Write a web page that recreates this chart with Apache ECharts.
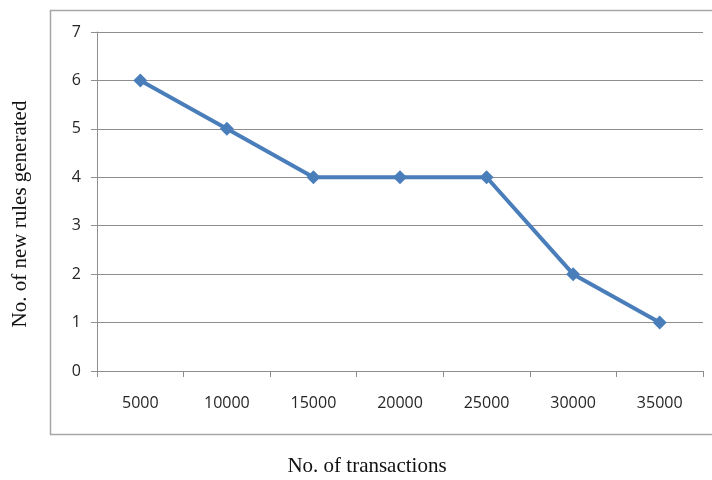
<!DOCTYPE html>
<html>
<head>
<meta charset="utf-8">
<script src="https://cdn.jsdelivr.net/npm/echarts@6/dist/echarts.min.js"></script>
<style>
  html, body { margin: 0; padding: 0; background: #fff; }
  #chart { width: 712px; height: 480px; }
</style>
</head>
<body>
<div id="chart"></div>
<script>
// Transactions processed vs. new rules generated
const transactions = ['5000', '10000', '15000', '20000', '25000', '30000', '35000'];
const newRules = [6, 5, 4, 4, 4, 2, 1];
const yTicks = { min: 0, max: 7, interval: 1 };
const xTitle = 'No. of transactions';
const yTitle = 'No. of new rules generated';

const gridColor = '#8e8e8e';
const lineColor = '#4a7ebb';
const tickFont = { fontFamily: 'Open Sans', fontSize: 16, color: '#262626' };

const chart = echarts.init(document.getElementById('chart'), null, { renderer: 'canvas' });
chart.setOption({
  backgroundColor: '#ffffff',
  animation: false,
  grid: { left: 97, right: 9, top: 32, bottom: 109, containLabel: false },
  xAxis: {
    type: 'category',
    data: transactions,
    boundaryGap: true,
    axisLine: { lineStyle: { color: gridColor, width: 1 } },
    axisTick: { show: true, length: 6, alignWithLabel: false, lineStyle: { color: gridColor } },
    axisLabel: Object.assign({ margin: 24 }, tickFont),
    splitLine: { show: false }
  },
  yAxis: {
    type: 'value',
    min: yTicks.min,
    max: yTicks.max,
    interval: yTicks.interval,
    axisLine: { show: true, lineStyle: { color: gridColor, width: 1 } },
    axisTick: { show: true, length: 6, lineStyle: { color: gridColor } },
    axisLabel: Object.assign({ margin: 16 }, tickFont),
    splitLine: { show: true, lineStyle: { color: gridColor, width: 1 } }
  },
  series: [{
    type: 'line',
    data: newRules,
    symbol: 'diamond',
    symbolSize: 14,
    lineStyle: { color: lineColor, width: 4 },
    itemStyle: { color: lineColor },
    z: 3
  }],
  graphic: [
    {
      type: 'rect',
      shape: { x: 50.5, y: 10.5, width: 680, height: 424 },
      style: { fill: 'none', stroke: '#a6a6a6', lineWidth: 1.5 },
      silent: true,
      z: -1
    },
    {
      type: 'text',
      x: 367,
      y: 466,
      style: {
        text: xTitle,
        font: '21px "Liberation Serif"',
        fill: '#111',
        textAlign: 'center',
        textVerticalAlign: 'middle'
      }
    },
    {
      type: 'text',
      x: 20,
      y: 214,
      rotation: Math.PI / 2,
      style: {
        text: yTitle,
        font: '21px "Liberation Serif"',
        fill: '#111',
        textAlign: 'center',
        textVerticalAlign: 'middle'
      }
    }
  ]
});
</script>
</body>
</html>
